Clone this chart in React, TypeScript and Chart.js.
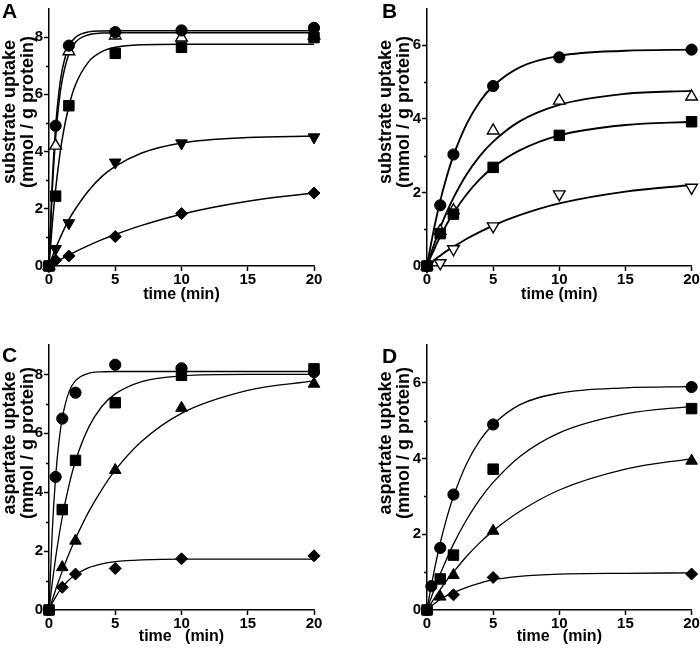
import React, { useEffect, useRef } from 'react';
import { Chart, registerables } from 'chart.js';

Chart.register(...registerables);

const FONT = "'Liberation Sans', Arial, Helvetica, sans-serif";

// shared axes
const xTicks = [0, 5, 10, 15, 20];
const yTicks9 = [0, 2, 4, 6, 8];
const yMinor9 = [1, 3, 5, 7];
const yTicks7 = [0, 2, 4, 6];
const yMinor7 = [1, 3, 5];

const fitTimes = [0, 0.25, 0.5, 0.75, 1, 1.5, 2, 3, 4, 5, 7, 10, 15, 20];

// ---------- Panel A ----------
const aTimes = [0, 0.5, 1.5, 5, 10, 20];
const aSquare = [0, 2.44, 5.6, 7.43, 7.64, 7.98];
const aCircle = [0, 4.9, 7.7, 8.17, 8.23, 8.32];
const aOpenTri = [0, 4.2, 7.5, 8.05, 7.98, 8.05];
const aDownTri = [0, 0.6, 1.5, 3.62, 4.29, 4.5];
const aDiamond = [0, 0.2, 0.35, 1.03, 1.83, 2.55];
const aCircleFit = [0, 2.98, 4.87, 6.09, 6.86, 7.67, 7.99, 8.18, 8.21, 8.22, 8.22, 8.22, 8.22, 8.22];
const aOpenTriFit = [0, 2.69, 4.49, 5.7, 6.5, 7.41, 7.82, 8.08, 8.14, 8.15, 8.15, 8.15, 8.15, 8.15];
const aSquareFit = [0, 1.48, 2.68, 3.65, 4.44, 5.58, 6.33, 7.14, 7.49, 7.64, 7.73, 7.75, 7.75, 7.75];
const aDownTriFit = [0, 0.32, 0.61, 0.89, 1.15, 1.62, 2.0, 2.64, 3.13, 3.48, 3.95, 4.3, 4.49, 4.54];
const aDiamondFit = [0, 0.07, 0.13, 0.2, 0.26, 0.38, 0.5, 0.72, 0.92, 1.1, 1.42, 1.81, 2.26, 2.55];

// ---------- Panel B ----------
const bTimes = [0, 1, 2, 5, 10, 20];
const bSquare = [0, 0.88, 1.41, 2.68, 3.55, 3.92];
const bCircle = [0, 1.65, 3.03, 4.89, 5.67, 5.88];
const bOpenTri = [0, 0.95, 1.51, 3.68, 4.49, 4.6];
const bOpenDownTri = [0, 0.08, 0.46, 1.08, 1.95, 2.13];
const bCircleFit = [0, 0.5, 0.96, 1.38, 1.77, 2.44, 3.0, 3.86, 4.47, 4.89, 5.4, 5.71, 5.85, 5.88];
const bOpenTriFit = [0, 0.28, 0.55, 0.8, 1.04, 1.47, 1.85, 2.49, 2.99, 3.38, 3.93, 4.38, 4.68, 4.76];
const bSquareFit = [0, 0.22, 0.42, 0.62, 0.8, 1.14, 1.44, 1.95, 2.36, 2.68, 3.14, 3.55, 3.83, 3.92];
const bOpenDownTriFit = [0, 0.07, 0.14, 0.22, 0.28, 0.41, 0.52, 0.74, 0.93, 1.1, 1.38, 1.7, 2.02, 2.2];

// ---------- Panel C ----------
const cCircleTimes = [0, 0.5, 1, 2, 5, 10, 20];
const cCircle = [0, 4.52, 6.5, 7.38, 8.33, 8.21, 8.08];
const cTimes = [0, 1, 2, 5, 10, 20];
const cSquare = [0, 3.41, 5.08, 7.04, 7.97, 8.19];
const cTri = [0, 1.45, 2.35, 4.75, 6.86, 7.68];
const cDiamond = [0, 0.77, 1.22, 1.41, 1.74, 1.84];
const cCircleFit = [0, 2.71, 4.52, 5.71, 6.51, 7.4, 7.79, 8.04, 8.09, 8.1, 8.1, 8.1, 8.1, 8.1];
const cSquareFit = [0, 0.94, 1.77, 2.5, 3.15, 4.22, 5.06, 6.21, 6.92, 7.34, 7.76, 7.95, 8.0, 8.0];
const cTriFit = [0, 0.35, 0.69, 1.01, 1.32, 1.9, 2.42, 3.34, 4.1, 4.75, 5.73, 6.68, 7.46, 7.78];
const cDiamondFit = [0, 0.24, 0.44, 0.62, 0.77, 1.02, 1.2, 1.44, 1.57, 1.64, 1.7, 1.73, 1.73, 1.73];

// ---------- Panel D ----------
const dCircleTimes = [0, 0.33, 1, 2, 5, 20];
const dCircle = [0, 0.63, 1.64, 3.05, 4.9, 5.89];
const dTimes = [0, 1, 2, 5, 20];
const dSquare = [0, 0.82, 1.45, 3.72, 5.32];
const dTri = [0, 0.35, 0.92, 2.09, 3.94];
const dDiamondTimes = [0, 2, 5, 20];
const dDiamond = [0, 0.4, 0.86, 0.95];
const dCircleFit = [0, 0.5, 0.96, 1.38, 1.77, 2.44, 3.0, 3.87, 4.48, 4.9, 5.42, 5.73, 5.87, 5.9];
const dSquareFit = [0, 0.26, 0.5, 0.73, 0.95, 1.36, 1.74, 2.39, 2.93, 3.37, 4.05, 4.68, 5.18, 5.38];
const dTriFit = [0, 0.14, 0.28, 0.41, 0.54, 0.78, 1.0, 1.42, 1.78, 2.09, 2.6, 3.17, 3.72, 4.0];
const dDiamondFit = [0, 0.08, 0.15, 0.22, 0.28, 0.38, 0.46, 0.6, 0.71, 0.8, 0.89, 0.95, 0.97, 0.98];

type Marker = 'circle' | 'square' | 'triUp' | 'triDown' | 'diamond';
type Series = { t: number[]; y: number[]; marker: Marker; open?: boolean };

type PanelCfg = {
  letter: string;
  left: number;
  top: number;
  padLeft: number;
  padRight: number;
  padTop: number;
  padBottom: number;
  yWidth: number;
  yMax: number;
  yTicks: number[];
  yMinor: number[];
  yTitle: string[];
  yTitleX: number[];
  yTitleY: number;
  xTitle: string;
  letterX: number;
  letterY: number;
  lineWidth: number;
  points: Series[];
  fits: number[][];
};

function markerProps(m: Marker, open?: boolean) {
  const base: any = {
    pointBackgroundColor: open ? '#ffffff' : '#000000',
    pointBorderColor: '#000000',
    pointBorderWidth: open ? 1.4 : 1,
    pointRotation: 0,
  };
  if (m === 'circle') return { ...base, pointStyle: 'circle', pointRadius: 5.6 };
  if (m === 'square') return { ...base, pointStyle: 'rect', pointRadius: 7.4 };
  if (m === 'triUp') return { ...base, pointStyle: 'triangle', pointRadius: 6.7 };
  if (m === 'triDown') return { ...base, pointStyle: 'triangle', pointRadius: 6.7, pointRotation: 180 };
  return { ...base, pointStyle: 'rectRot', pointRadius: 6 };
}

const panels: PanelCfg[] = [
  {
    letter: 'A', left: 0, top: 0, padLeft: 0, padRight: 36, padTop: 0, padBottom: 21, yWidth: 49,
    yMax: 9, yTicks: yTicks9, yMinor: yMinor9,
    yTitle: ['substrate uptake', '(mmol / g protein)'], yTitleX: [10, 28], yTitleY: 112,
    xTitle: 'time (min)',
    letterX: 2, letterY: 18, lineWidth: 1.5,
    points: [
      { t: aTimes, y: aSquare, marker: 'square' },
      { t: aTimes, y: aCircle, marker: 'circle' },
      { t: aTimes, y: aOpenTri, marker: 'triUp', open: true },
      { t: aTimes, y: aDownTri, marker: 'triDown' },
      { t: aTimes, y: aDiamond, marker: 'diamond' },
    ],
    fits: [aCircleFit, aOpenTriFit, aSquareFit, aDownTriFit, aDiamondFit],
  },
  {
    letter: 'B', left: 350, top: 0, padLeft: 26, padRight: 8, padTop: 0, padBottom: 21, yWidth: 51,
    yMax: 7, yTicks: yTicks7, yMinor: yMinor7,
    yTitle: ['substrate uptake', '(mmol / g protein)'], yTitleX: [36, 54], yTitleY: 112,
    xTitle: 'time (min)',
    letterX: 32, letterY: 18, lineWidth: 1.9,
    points: [
      { t: bTimes, y: bSquare, marker: 'square' },
      { t: bTimes, y: bCircle, marker: 'circle' },
      { t: bTimes, y: bOpenTri, marker: 'triUp', open: true },
      { t: bTimes, y: bOpenDownTri, marker: 'triDown', open: true },
    ],
    fits: [bCircleFit, bOpenTriFit, bSquareFit, bOpenDownTriFit],
  },
  {
    letter: 'C', left: 0, top: 325, padLeft: 0, padRight: 36, padTop: 20, padBottom: 4, yWidth: 49,
    yMax: 9, yTicks: yTicks9, yMinor: yMinor9,
    yTitle: ['aspartate uptake', '(mmol / g protein)'], yTitleX: [10, 28], yTitleY: 118,
    xTitle: 'time   (min)',
    letterX: 2, letterY: 37, lineWidth: 1.3,
    points: [
      { t: cTimes, y: cSquare, marker: 'square' },
      { t: cCircleTimes, y: cCircle, marker: 'circle' },
      { t: cTimes, y: cTri, marker: 'triUp' },
      { t: cTimes, y: cDiamond, marker: 'diamond' },
    ],
    fits: [cCircleFit, cSquareFit, cTriFit, cDiamondFit],
  },
  {
    letter: 'D', left: 350, top: 325, padLeft: 26, padRight: 8, padTop: 20, padBottom: 4, yWidth: 51,
    yMax: 7, yTicks: yTicks7, yMinor: yMinor7,
    yTitle: ['aspartate uptake', '(mmol / g protein)'], yTitleX: [36, 54], yTitleY: 118,
    xTitle: 'time   (min)',
    letterX: 32, letterY: 38, lineWidth: 1.3,
    points: [
      { t: dTimes, y: dSquare, marker: 'square' },
      { t: dCircleTimes, y: dCircle, marker: 'circle' },
      { t: dTimes, y: dTri, marker: 'triUp' },
      { t: dDiamondTimes, y: dDiamond, marker: 'diamond' },
    ],
    fits: [dCircleFit, dSquareFit, dTriFit, dDiamondFit],
  },
];

function Panel({ cfg }: { cfg: PanelCfg }) {
  const ref = useRef<HTMLCanvasElement>(null);

  useEffect(() => {
    const pointSets = cfg.points.map((s) => ({
      data: s.t.map((x, i) => ({ x, y: s.y[i] })),
      showLine: false,
      clip: false,
      ...markerProps(s.marker, s.open),
    }));
    const fitSets = cfg.fits.map((f) => ({
      data: fitTimes.map((x, i) => ({ x, y: f[i] })),
      showLine: true,
      pointRadius: 0,
      borderColor: '#000000',
      borderWidth: cfg.lineWidth,
      cubicInterpolationMode: 'monotone',
      fill: false,
      clip: false,
    }));

    const decor = {
      id: 'decor',
      afterDraw(chart: any) {
        const { ctx, chartArea, scales } = chart;
        ctx.save();
        ctx.strokeStyle = '#000';
        ctx.lineWidth = 1.5;
        cfg.yMinor.forEach((v) => {
          const py = Math.round(scales.y.getPixelForValue(v)) + 0.5;
          ctx.beginPath();
          ctx.moveTo(chartArea.left - 3, py);
          ctx.lineTo(chartArea.left, py);
          ctx.stroke();
        });
        ctx.fillStyle = '#000';
        ctx.font = `bold 21px ${FONT}`;
        ctx.textBaseline = 'alphabetic';
        ctx.textAlign = 'left';
        ctx.fillText(cfg.letter, cfg.letterX, cfg.letterY);
        // y-axis title, two rotated lines
        ctx.font = `bold 18px ${FONT}`;
        ctx.textAlign = 'center';
        ctx.textBaseline = 'middle';
        cfg.yTitle.forEach((line, i) => {
          ctx.save();
          ctx.translate(cfg.yTitleX[i], cfg.yTitleY);
          ctx.rotate(-Math.PI / 2);
          ctx.fillText(line, 0, 0);
          ctx.restore();
        });
        ctx.restore();
      },
    };

    const tickFont = { family: FONT, size: 15, weight: 'bold' as const };
    const titleFont = { family: FONT, size: 16, weight: 'bold' as const, lineHeight: 1.2 };
    const gridOpts = {
      display: true,
      drawOnChartArea: false,
      drawTicks: true,
      tickLength: 5,
      tickColor: '#000',
      tickWidth: 1.5,
    };

    const chart = new Chart(ref.current as HTMLCanvasElement, {
      type: 'line',
      data: { datasets: [...pointSets, ...fitSets] as any },
      options: {
        responsive: false,
        animation: false,
        devicePixelRatio: 1,
        events: [],
        layout: {
          padding: { left: cfg.padLeft, right: cfg.padRight, top: cfg.padTop, bottom: cfg.padBottom },
        },
        plugins: { legend: { display: false }, tooltip: { enabled: false } },
        scales: {
          x: {
            type: 'linear',
            min: 0,
            max: 20,
            afterBuildTicks: (s: any) => {
              s.ticks = xTicks.map((v) => ({ value: v }));
            },
            afterFit: (s: any) => {
              s.height = 325 - cfg.padBottom - (cfg.padTop === 0 ? 266 : 285);
              s.paddingLeft = 0;
              s.paddingRight = 0;
            },
            grid: gridOpts,
            border: { display: true, color: '#000', width: 1.5 },
            ticks: { color: '#000', font: tickFont, padding: 0, maxRotation: 0, autoSkip: false },
            title: { display: true, text: cfg.xTitle, color: '#000', font: titleFont, padding: { top: 0, bottom: 0 } },
          },
          y: {
            type: 'linear',
            min: 0,
            max: cfg.yMax,
            afterBuildTicks: (s: any) => {
              s.ticks = cfg.yTicks.map((v) => ({ value: v }));
            },
            afterFit: (s: any) => {
              s.width = cfg.yWidth;
              s.paddingTop = 0;
              s.paddingBottom = 0;
            },
            grid: gridOpts,
            border: { display: true, color: '#000', width: 1.5 },
            ticks: { color: '#000', font: tickFont, padding: 1, autoSkip: false },
            title: { display: false },
          },
        },
      } as any,
      plugins: [decor],
    });
    return () => chart.destroy();
  }, [cfg]);

  return (
    <canvas
      ref={ref}
      width={350}
      height={325}
      style={{ position: 'absolute', left: cfg.left, top: cfg.top, width: 350, height: 325 }}
    />
  );
}

export default function App() {
  return (
    <div style={{ position: 'absolute', left: 0, top: 0, width: 700, height: 650, background: '#fff' }}>
      {panels.map((p) => (
        <Panel key={p.letter} cfg={p} />
      ))}
    </div>
  );
}
